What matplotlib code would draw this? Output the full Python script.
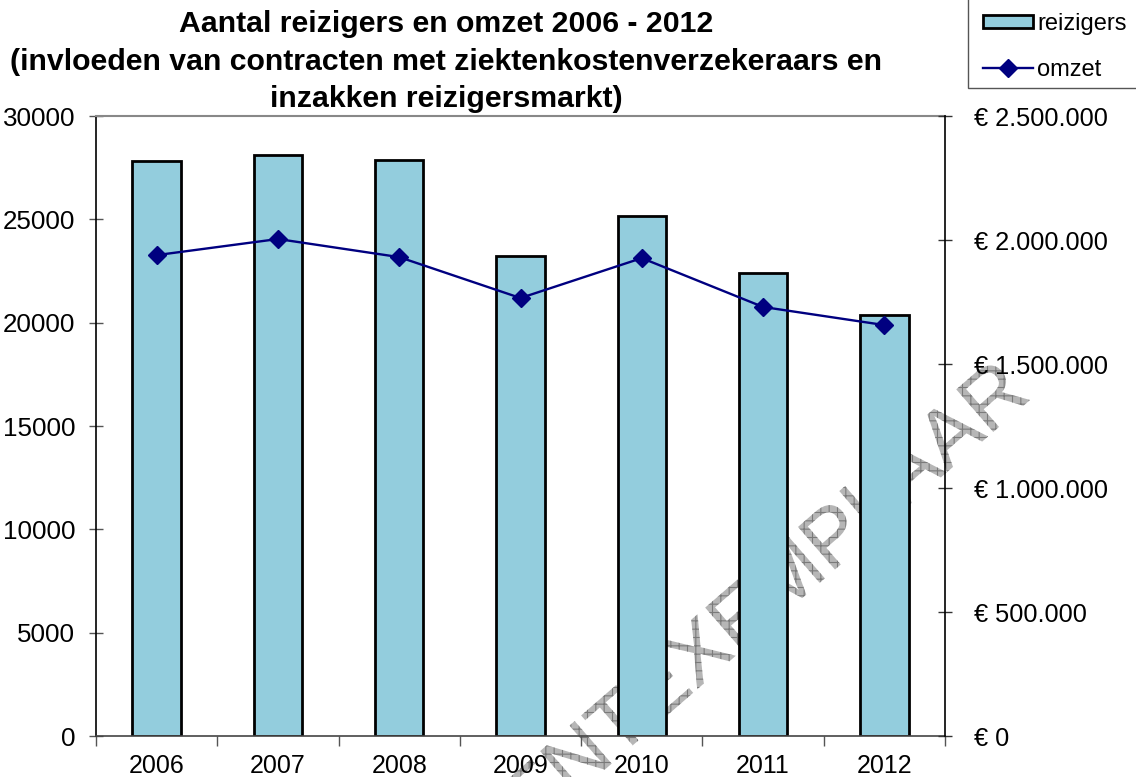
import matplotlib
matplotlib.use("Agg")
import matplotlib.pyplot as plt
from matplotlib.ticker import FuncFormatter, MultipleLocator, FixedLocator
from matplotlib.patches import Rectangle, PathPatch
from matplotlib.textpath import TextPath
from matplotlib.font_manager import FontProperties
import matplotlib.transforms as mtransforms

plt.rcParams['font.family'] = ['Liberation Sans', 'DejaVu Sans']
plt.rcParams['hatch.linewidth'] = 0.8

years = ['2006', '2007', '2008', '2009', '2010', '2011', '2012']
reizigers = [27800, 28100, 27850, 23250, 25150, 22400, 20350]
omzet = [1939000, 2004000, 1931000, 1766000, 1927000, 1730000, 1657000]
title_lines = ['Aantal reizigers en omzet 2006 - 2012',
               '(invloeden van contracten met ziektenkostenverzekeraars en',
               'inzakken reizigersmarkt)']

W, H = 1136, 777
fig = plt.figure(figsize=(W / 100, H / 100), dpi=100)
fig.patch.set_facecolor('white')

ax = fig.add_axes([96 / W, 1 - 736 / H, (945 - 96) / W, (736 - 116) / H])
ax.set_facecolor('none')

x = list(range(len(years)))
bars = ax.bar(x, reizigers, width=0.40, color='#93CDDD', edgecolor='black',
              linewidth=2.0, label='reizigers', zorder=2)
ax.set_xlim(-0.5, len(years) - 0.5)
ax.set_ylim(0, 30000)
ax.yaxis.set_major_locator(MultipleLocator(5000))
ax.set_xticks(x)
ax.set_xticklabels(years)
ax.xaxis.set_minor_locator(FixedLocator([i - 0.5 for i in range(len(years) + 1)]))
ax.tick_params(axis='x', which='major', length=0, pad=13, labelsize=18)
ax.tick_params(axis='x', which='minor', length=7, direction='out', color='#555555', width=1)
ax.tick_params(axis='y', which='major', length=10, direction='inout', pad=10,
               labelsize=18.7, color='#555555', width=1)
ax.spines['left'].set_color('black')
ax.spines['left'].set_linewidth(1.2)
ax.spines['bottom'].set_color('#444444')
ax.spines['bottom'].set_linewidth(1.2)
ax.spines['top'].set_color('#888888')
ax.spines['top'].set_linewidth(1.5)
ax.spines['right'].set_visible(False)

ax2 = ax.twinx()
ax2.set_ylim(0, 2500000)
ax2.yaxis.set_major_locator(MultipleLocator(500000))


def euro(v, pos):
    v = int(round(v))
    if v == 0:
        return '€ 0'
    return '€ ' + f'{v:,}'.replace(',', '.')


ax2.yaxis.set_major_formatter(FuncFormatter(euro))
line, = ax2.plot(x, omzet, color='#000080', linewidth=1.7, marker='D',
                 markersize=9.5, markerfacecolor='#000080', markeredgecolor='#000080',
                 label='omzet', zorder=3)
ax2.tick_params(axis='y', which='major', length=10, direction='inout', pad=16,
                labelsize=18.3, color='#333333', width=1)
for s in ['left', 'top', 'bottom']:
    ax2.spines[s].set_visible(False)
ax2.spines['right'].set_color('black')
ax2.spines['right'].set_linewidth(1.2)

# Title
for txt, yb in zip(title_lines, [32, 70, 107]):
    fig.text(446 / W, 1 - yb / H, txt, ha='center', va='baseline',
             fontsize=21.8, fontweight='bold')

# Legend box
fig.add_artist(Rectangle((968 / W, 1 - 88 / H), 0.2, 0.2, transform=fig.transFigure,
                         facecolor='white', edgecolor='#555555', linewidth=1.0, zorder=1))
leg = fig.legend(handles=[bars, line], labels=['reizigers', 'omzet'],
                 loc='center left', bbox_to_anchor=(983 / W, 1 - 47 / H),
                 frameon=False, fontsize=17, handlelength=2.1, handleheight=0.45,
                 handletextpad=0.2, labelspacing=1.0, borderpad=0, borderaxespad=0)
leg.set_zorder(2)

# Watermark
fp = FontProperties(family='Liberation Sans')
tp = TextPath((0, 0), 'PRESENTEXEMPLAAR', size=82, prop=fp)
ext = tp.get_extents()
tr = (mtransforms.Affine2D().translate(-ext.x1, 0).rotate_deg(41)
      .translate(1030, H - 400).scale(1 / W, 1 / H) + fig.transFigure)
wm = PathPatch(tp, transform=tr, facecolor='#b6b6b6', edgecolor='#7a7a7a',
               linewidth=0, hatch='++', zorder=-1)
fig.add_artist(wm)

fig.savefig('out.png', dpi=100, facecolor='white')
